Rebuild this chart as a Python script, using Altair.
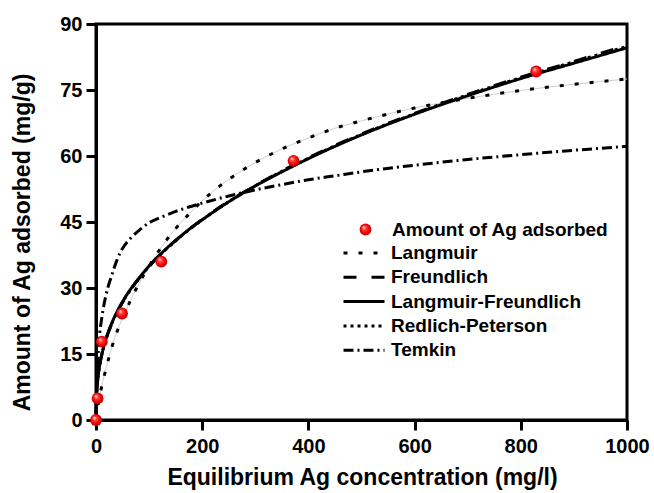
import altair as alt
import pandas as pd

# ---------------- data ----------------
point_x = [0, 3, 11, 49, 123, 372, 829]
point_y = [0, 4.9, 17.8, 24.2, 36.0, 58.9, 79.2]

curve_x = [0, 0.5, 1, 2, 3, 5, 7, 10, 15, 20, 30, 40, 50, 65, 80, 100, 125, 150,
           175, 200, 250, 300, 350, 400, 450, 500, 600, 700, 800, 900, 1000]

langmuir = [0, 0.5, 1.0, 2.0, 2.8, 4.2, 5.5, 7.2, 9.8, 12.2, 16.6, 20.2, 23.2, 27.2,
            30.8, 35.0, 39.6, 43.5, 46.8, 49.8, 54.7, 58.5, 61.6, 64.1, 66.3, 68.0,
            70.9, 73.1, 74.9, 76.3, 77.5]
freundlich = [0, 4.5, 5.9, 7.7, 9.0, 11.0, 12.5, 14.35, 16.8, 18.75, 21.9, 24.5, 26.7,
              29.55, 32.0, 34.9, 38.05, 40.8, 43.3, 45.6, 49.7, 53.3, 56.6, 59.6, 62.4,
              65.0, 69.7, 74.0, 77.9, 81.5, 85.2]
langmuir_freundlich = [0, 3.8, 5.4, 7.4, 8.8, 10.9, 12.5, 14.4, 16.9, 18.9, 22.1, 24.7,
                       26.9, 29.7, 32.1, 35.0, 38.1, 40.8, 43.3, 45.5, 49.6, 53.2, 56.4,
                       59.4, 62.2, 64.8, 69.5, 73.7, 77.6, 81.1, 84.6]
redlich_peterson = [0, 4.3, 5.7, 7.6, 8.9, 10.9, 12.4, 14.3, 16.8, 18.8, 22.0, 24.6,
                    26.8, 29.6, 32.0, 34.9, 38.0, 40.7, 43.2, 45.5, 49.6, 53.2, 56.5,
                    59.5, 62.3, 64.9, 69.6, 73.9, 77.8, 81.4, 84.9]
temkin_x = curve_x[1:]
temkin = [3.0, 7.5, 10.5, 12.5, 17.0, 19.8, 22.5, 26.2, 29.0, 33.0, 36.5, 39.0, 41.3,
          43.0, 44.8, 46.2, 47.4, 48.4, 49.3, 50.9, 52.3, 53.5, 54.6, 55.5, 56.4, 57.9,
          59.2, 60.3, 61.3, 62.2]

models = ["Langmuir", "Freundlich", "Langmuir-Freundlich", "Redlich-Peterson", "Temkin"]
dashes = [[4, 11], [13, 15], [1, 0], [3, 4], [10, 4, 2, 4]]
x_ticks = [0, 200, 400, 600, 800, 1000]
y_ticks = [0, 15, 30, 45, 60, 75, 90]

# ---------------- tables ----------------
rows = []
for name, ys, xs in [("Langmuir", langmuir, curve_x), ("Freundlich", freundlich, curve_x),
                     ("Langmuir-Freundlich", langmuir_freundlich, curve_x),
                     ("Redlich-Peterson", redlich_peterson, curve_x),
                     ("Temkin", temkin, temkin_x)]:
    for xv, yv in zip(xs, ys):
        rows.append({"model": name, "x": xv, "y": yv})
df_lines = pd.DataFrame(rows)
df_pts = pd.DataFrame({"x": point_x, "y": point_y, "series": "Amount of Ag adsorbed"})

FONT = "Liberation Sans"

xscale = alt.Scale(domain=[0, 1000], nice=False, zero=False)
yscale = alt.Scale(domain=[0, 90], nice=False, zero=False)

x_enc = alt.X("x:Q", scale=xscale, axis=alt.Axis(
    values=x_ticks, format="d", labelFlush=False, title="Equilibrium Ag concentration (mg/l)",
    grid=False, titleX=266, titleAlign="center", titleY=64, titleBaseline="alphabetic"))
y_enc = alt.Y("y:Q", scale=yscale, axis=alt.Axis(
    values=y_ticks, format="d", labelFlush=False, title="Amount of Ag adsorbed (mg/g)", grid=False,
    titleX=-67, titleY=218, titleAlign="center", titleBaseline="alphabetic", titleAngle=270))

faint = alt.Chart(df_lines).transform_filter(alt.datum.model == "Langmuir").mark_line(
    color="#cfcfcf", strokeWidth=1, interpolate="monotone").encode(x=x_enc, y=y_enc, detail="model:N")

lines = alt.Chart(df_lines).mark_line(color="black", strokeWidth=3, interpolate="monotone").encode(
    x=x_enc, y=y_enc,
    strokeDash=alt.StrokeDash("model:N", scale=alt.Scale(domain=models, range=dashes),
                              legend=alt.Legend(title=None, orient="none", legendX=246, legendY=219,
                                                symbolType="stroke", symbolSize=1681,
                                                symbolStrokeWidth=3, symbolStrokeColor="black",
                                                labelFont=FONT, labelFontSize=19, labelFontWeight="bold",
                                                labelColor="black", labelOffset=5, clipHeight=20,
                                                rowPadding=4.3, labelLimit=0, padding=0)),
)

sphere = alt.RadialGradient(
    gradient="radial",
    stops=[alt.GradientStop(color="#ffffff", offset=0.0),
           alt.GradientStop(color="#ff4040", offset=0.3),
           alt.GradientStop(color="#ee0000", offset=0.7),
           alt.GradientStop(color="#b00000", offset=1.0)],
    x1=0.35, y1=0.3, r1=0.0, x2=0.5, y2=0.5, r2=0.55)

pts = alt.Chart(df_pts).mark_point(filled=True, fill=sphere, size=140, opacity=1, strokeWidth=0).encode(
    x=x_enc, y=y_enc,
    shape=alt.Shape("series:N", scale=alt.Scale(domain=["Amount of Ag adsorbed"], range=["circle"]),
                    legend=alt.Legend(title=None, orient="none", legendX=260, legendY=196,
                                      symbolFillColor="#ee0000", symbolStrokeWidth=0, symbolSize=140,
                                      labelFont=FONT, labelFontSize=19, labelFontWeight="bold",
                                      labelColor="black", labelOffset=17, labelLimit=0, padding=0)),
)

chart = alt.layer(faint, lines, pts).resolve_legend(shape="independent", strokeDash="independent").properties(
    width=531, height=396,
    autosize=alt.AutoSizeParams(type="none"),
    padding={"left": 96, "top": 24, "right": 27, "bottom": 73},
).configure_view(stroke="black", strokeWidth=3).configure_axis(
    domainColor="black", domainWidth=3, tickColor="black", tickWidth=3, tickSize=10,
    labelFont=FONT, labelFontSize=20, labelFontWeight="bold", labelColor="black", labelPadding=4,
    titleFont=FONT, titleFontSize=23, titleFontWeight="bold", titleColor="black",
).configure_axisX(labelPadding=6)

chart.save("out.html", embed_options={"renderer": "svg", "actions": False})
